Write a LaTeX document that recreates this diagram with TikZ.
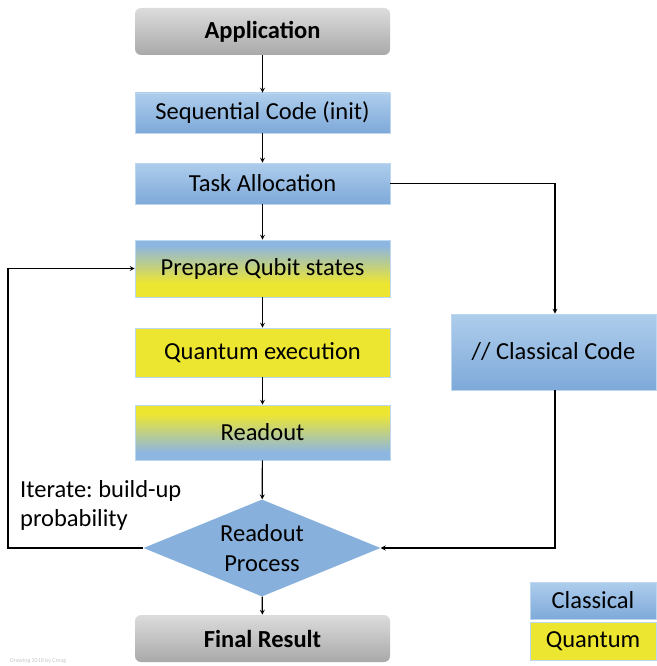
\documentclass[tikz,border=0pt]{standalone}
\usepackage{fontspec}
\setmainfont{Carlito}
\usetikzlibrary{shapes.geometric}
\frenchspacing

\definecolor{clsblue}{HTML}{7EA9D9}
\definecolor{clslight}{HTML}{AECDEC}
\definecolor{mixblue}{HTML}{8DB6E0}
\definecolor{qyellow}{HTML}{EDE631}
\definecolor{boxgray}{HTML}{A9A9A9}
\definecolor{boxlight}{HTML}{DCDCDC}

\pgfdeclareverticalshading{bluetoyellow}{100bp}{color(0bp)=(qyellow); color(37bp)=(qyellow); color(70bp)=(mixblue); color(100bp)=(mixblue)}
\pgfdeclareverticalshading{yellowtoblue}{100bp}{color(0bp)=(mixblue); color(32bp)=(mixblue); color(67bp)=(qyellow); color(100bp)=(qyellow)}

\tikzset{
  stepbox/.style={minimum width=255pt, inner sep=0pt, draw=clslight!80!white, line width=0.6pt, font=\fontsize{24.5}{28}\selectfont},
  classic/.style={stepbox, top color=clslight, bottom color=clsblue},
  quantum/.style={stepbox, fill=qyellow},
  endbox/.style={stepbox, rounded corners=6pt, draw=none, top color=boxlight, bottom color=boxgray, font=\fontsize{24.5}{28}\selectfont\bfseries},
  flow/.style={->, line width=1.2pt}
}

\begin{document}
\begin{tikzpicture}[x=1pt, y=-1pt, >=stealth]
    \useasboundingbox (0,0) rectangle (656,666);
    \node[endbox, minimum height=47pt] (app) at (262.5,31.5) {Application};
    \node[classic, minimum height=40pt] (seq) at (262.5,113) {Sequential Code (init)};
    \node[classic, minimum height=41pt] (task) at (262.5,183.5) {Task Allocation};
    \node[stepbox, shading=bluetoyellow, minimum height=57pt] (prep) at (262.5,268.5) {Prepare Qubit states};
    \node[quantum, minimum height=49pt] (qexec) at (262.5,352.5) {Quantum execution};
    \node[stepbox, shading=yellowtoblue, minimum height=55pt] (rdout) at (262.5,432.5) {Readout};
    \node[diamond, aspect=2.44, fill=clsblue!92!white, inner sep=0pt, minimum width=237pt, minimum height=97pt,
          align=center, font=\fontsize{24.5}{30}\selectfont] (proc) at (262,548) {Readout\\Process};
    \node[endbox, minimum height=47pt] (final) at (262.5,638.5) {Final Result};
    \node[classic, minimum width=205pt, minimum height=76pt] (cls) at (553.5,352) {// Classical Code};

    % legend
    \node[classic, minimum width=126pt, minimum height=37pt] (legcls) at (593,600.5) {Classical};
    \node[quantum, minimum width=126pt, minimum height=38pt] (legq) at (593,641) {Quantum};

    \coordinate (tr) at (555,183.5);
    \coordinate (br) at (555,548);
    \coordinate (bl) at (8,548);
    \coordinate (tl) at (8,268.5);

    \draw[flow] (app) -- (seq);
    \draw[flow] (seq) -- (task);
    \draw[flow] (task) -- (prep);
    \draw[flow] (prep) -- (qexec);
    \draw[flow] (qexec) -- (rdout);
    \draw[flow] (rdout) -- (proc);
    \draw[flow] (proc) -- (final);
    \draw[flow] (task.east) -- (tr) -- (cls.north -| tr);
    \draw[flow] (cls.south -| br) -- (br) -- (proc.east);
    \draw[flow] (proc.west) -- (bl) -- (tl) -- (prep.west);

    \node[anchor=north west, align=left, inner sep=0pt, font=\fontsize{24.5}{29}\selectfont] (iter) at (20,480) {Iterate: build-up\\probability};
    \node[anchor=south west, inner sep=0pt, text=black!22, font=\fontsize{6}{7}\selectfont] (credit) at (10,664) {Drawing 2018 by Cmag};
\end{tikzpicture}
\end{document}
